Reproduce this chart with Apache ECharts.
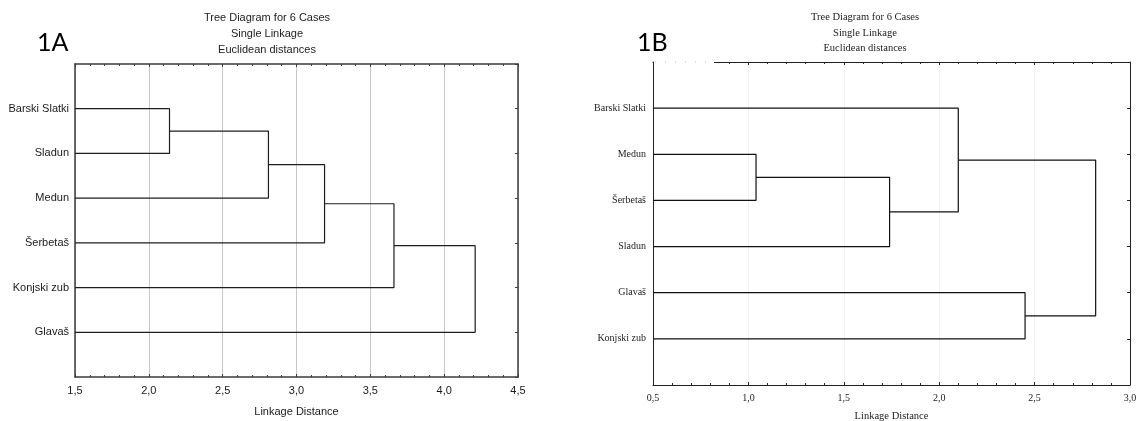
<!DOCTYPE html>
<html>
<head>
<meta charset="utf-8">
<script src="https://cdn.jsdelivr.net/npm/echarts@6/dist/echarts.min.js"></script>
<style>
html,body{margin:0;padding:0;background:#fff;}
#chart{width:1136px;height:421px;}
</style>
</head>
<body>
<div id="chart"></div>
<script>
// ---------- DATA ----------
const titleLines = ['Tree Diagram for 6 Cases', 'Single Linkage', 'Euclidean distances'];
const axisName = 'Linkage Distance';
const panelLabels = ['1A', '1B'];

// Panel 1A (leaf order top -> bottom)
const leavesA = ['Barski Slatki', 'Sladun', 'Medun', 'Šerbetaš', 'Konjski zub', 'Glavaš'];
// merges: [child a, child b, linkage distance]; leaves are 0..5, new clusters 6,7,...
const mergesA = [[0, 1, 2.14], [6, 2, 2.81], [7, 3, 3.19], [8, 4, 3.66], [9, 5, 4.21]];
const ticksA = [1.5, 2.0, 2.5, 3.0, 3.5, 4.0, 4.5];

// Panel 1B
const leavesB = ['Barski Slatki', 'Medun', 'Šerbetaš', 'Sladun', 'Glavaš', 'Konjski zub'];
const mergesB = [[1, 2, 1.04], [6, 3, 1.74], [0, 7, 2.10], [4, 5, 2.45], [8, 9, 2.82]];
const ticksB = [0.5, 1.0, 1.5, 2.0, 2.5, 3.0];

// ---------- BUILD ----------
function dendroSeries(leaves, merges, xMin, xIdx, yIdx, color, width) {
  const nodes = leaves.map((_, i) => ({ x: xMin, y: i + 1 }));
  const out = [];
  merges.forEach(([a, b, h]) => {
    const A = nodes[a], B = nodes[b];
    out.push({
      type: 'line', xAxisIndex: xIdx, yAxisIndex: yIdx,
      data: [[A.x, A.y], [h, A.y], [h, B.y], [B.x, B.y]],
      symbol: 'none', silent: true, animation: false, z: 5,
      lineStyle: { color: color, width: width }
    });
    nodes.push({ x: h, y: (A.y + B.y) / 2 });
  });
  return out;
}
const comma = v => v.toFixed(1).replace('.', ',');

function axesFor(grid, ticks, leaves, st) {
  const min = ticks[0], max = ticks[ticks.length - 1], interval = ticks[1] - ticks[0];
  const line = { show: true, onZero: false, lineStyle: { color: st.frame, width: st.frameW } };
  const tick = { show: true, inside: true, length: 3, lineStyle: { color: st.frame, width: 1 } };
  const minor = { show: true, splitNumber: 5, length: 2, lineStyle: { color: st.frame, width: 1 } };
  const x = [
    { gridIndex: grid, type: 'value', position: 'bottom', min, max, interval,
      axisLine: line, axisTick: tick, minorTick: minor,
      axisLabel: { formatter: comma, color: st.text, fontFamily: st.font, fontSize: st.tickSize, margin: 8 },
      splitLine: { show: true, lineStyle: { color: st.grid, width: 1 } },
      name: axisName, nameLocation: 'middle', nameGap: st.nameGap,
      nameTextStyle: { color: st.text, fontFamily: st.font, fontSize: st.nameSize } },
    { gridIndex: grid, type: 'value', position: 'top', min, max, interval,
      axisLine: line, axisTick: tick, minorTick: minor,
      axisLabel: { show: false }, splitLine: { show: false } }
  ];
  const y = [
    { gridIndex: grid, type: 'value', position: 'left', inverse: true, min: 0, max: leaves.length + 1, interval: 1,
      axisLine: line, axisTick: { show: false },
      axisLabel: { formatter: v => leaves[v - 1] || '', color: st.text, fontFamily: st.font, fontSize: st.catSize, margin: st.catMargin },
      splitLine: { show: false } },
    { gridIndex: grid, type: 'value', position: 'right', inverse: true, min: 0, max: leaves.length + 1, interval: 1,
      axisLine: line, axisTick: tick, axisLabel: { show: false }, splitLine: { show: false } }
  ];
  return { x, y };
}

const styleA = { frame: '#3c3c3c', frameW: 1.5, text: '#1a1a1a', grid: '#c8c8c8', font: '"Liberation Sans", Arial, sans-serif',
  tickSize: 11, nameSize: 11, catSize: 11, catMargin: 6, nameGap: 29 };
const styleB = { frame: '#222', frameW: 1, text: '#222', grid: '#f1f1f1', font: '"Liberation Serif", "Times New Roman", serif',
  tickSize: 10, nameSize: 10.5, catSize: 10, catMargin: 7, nameGap: 26 };

const axA = axesFor(0, ticksA, leavesA, styleA);
const axB = axesFor(1, ticksB, leavesB, styleB);

const option = {
  animation: false,
  backgroundColor: '#fff',
  grid: [
    { left: 75, top: 64, width: 443, height: 313, outerBoundsMode: 'none', containLabel: false },
    { left: 653, top: 62, width: 477, height: 323, outerBoundsMode: 'none', containLabel: false }
  ],
  xAxis: axA.x.concat(axB.x),
  yAxis: axA.y.concat(axB.y),
  series: dendroSeries(leavesA, mergesA, ticksA[0], 0, 0, '#1e1e1e', 1.2)
    .concat(dendroSeries(leavesB, mergesB, ticksB[0], 2, 2, '#111', 1.2)),
  graphic: [
    { type: 'text', x: 267, y: 10, style: { text: titleLines.join('\n'), align: 'center', verticalAlign: 'top',
      lineHeight: 16, fill: '#222', font: '11px "Liberation Sans", Arial, sans-serif' } },
    { type: 'text', x: 865, y: 9.5, style: { text: titleLines.join('\n'), align: 'center', verticalAlign: 'top',
      lineHeight: 15.5, fill: '#222', font: '10.5px "Liberation Serif", "Times New Roman", serif' } },
    { type: 'text', x: 37, y: 43, style: { text: panelLabels[0], align: 'left', verticalAlign: 'middle',
      fill: '#000', font: '25px Lato, "Open Sans", sans-serif' } },
    { type: 'text', x: 637, y: 43, style: { text: panelLabels[1], align: 'left', verticalAlign: 'middle',
      fill: '#000', font: '25px Lato, "Open Sans", sans-serif' } },
    { type: 'rect', shape: { x: 654, y: 59, width: 60, height: 5 }, style: { fill: '#fff' }, z: 100 },
    { type: 'line', shape: { x1: 655, y1: 62, x2: 714, y2: 62 }, style: { stroke: '#bbb', lineWidth: 1, lineDash: [1, 9] }, z: 101 }
  ]
};

const chart = echarts.init(document.getElementById('chart'), null, { renderer: 'canvas' });
chart.setOption(option);
</script>
</body>
</html>
